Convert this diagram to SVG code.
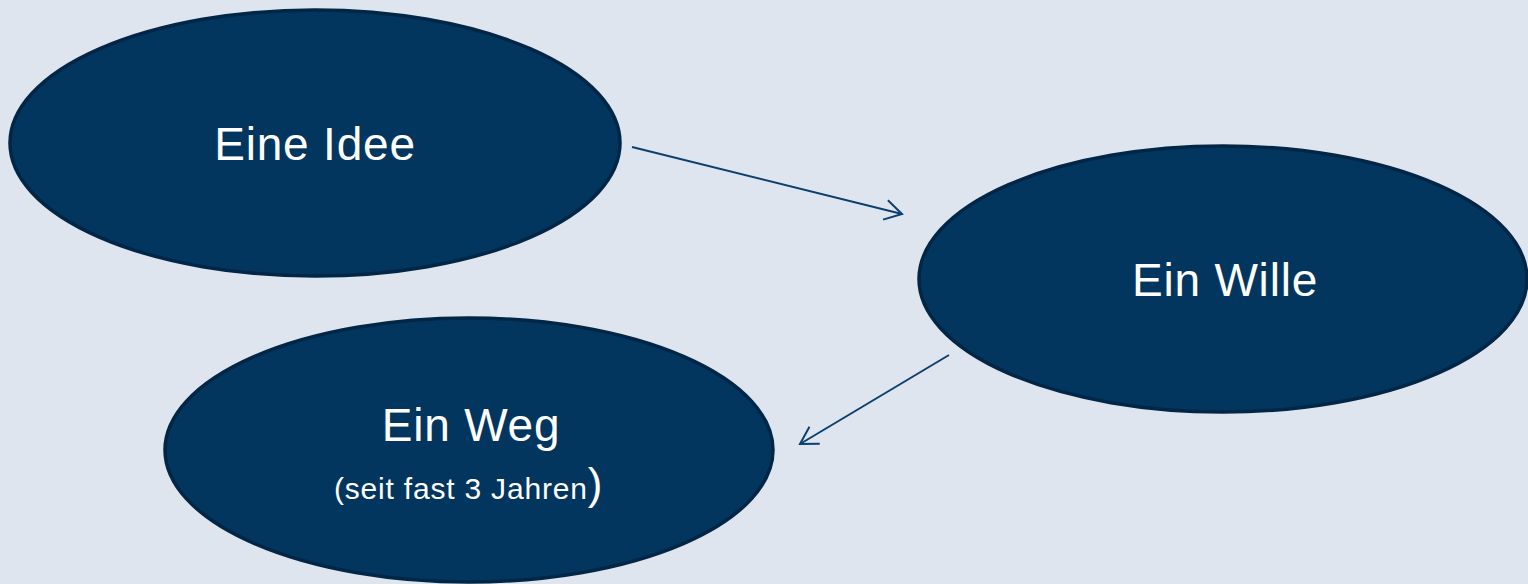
<svg xmlns="http://www.w3.org/2000/svg" width="1528" height="584" viewBox="0 0 1528 584">
  <style>
    .node ellipse { fill: #02365f; stroke: #012646; stroke-width: 3.5; }
    .lbl { font-family: "Liberation Sans", Arial, sans-serif; fill: #ffffff; }
    .big { font-size: 46px; letter-spacing: 0.8px; }
    .small { font-size: 30px; letter-spacing: 0.8px; }
    .conn { stroke: #0b3f6e; stroke-width: 2; fill: none; }
  </style>
  <defs>
    <marker id="open" viewBox="-20 -12 22 24" refX="0" refY="0" markerWidth="22" markerHeight="24" markerUnits="userSpaceOnUse" orient="auto">
      <path d="M-17,-10 L0,0 L-17,10" fill="none" stroke="#0b3f6e" stroke-width="2"/>
    </marker>
  </defs>
  <rect width="1528" height="584" fill="#dee5ee"/>
  <g id="connectors">
    <line class="conn" x1="632" y1="147" x2="902" y2="214" marker-end="url(#open)"/>
    <line class="conn" x1="949" y1="355" x2="800" y2="444" marker-end="url(#open)"/>
  </g>
  <g id="node-idee" class="node">
    <ellipse cx="315" cy="143" rx="305" ry="133"/>
    <text class="lbl big" x="315" y="160" text-anchor="middle">Eine Idee</text>
  </g>
  <g id="node-wille" class="node">
    <ellipse cx="1223" cy="279" rx="304" ry="133"/>
    <text class="lbl big" x="1225" y="296" text-anchor="middle">Ein Wille</text>
  </g>
  <g id="node-weg" class="node">
    <ellipse cx="469" cy="450" rx="304" ry="132"/>
    <text class="lbl big" x="471" y="441" text-anchor="middle">Ein Weg</text>
    <text class="lbl small" x="334" y="499">(seit fast 3 Jahren<tspan style="font-size:44px;letter-spacing:0">)</tspan></text>
  </g>
</svg>
